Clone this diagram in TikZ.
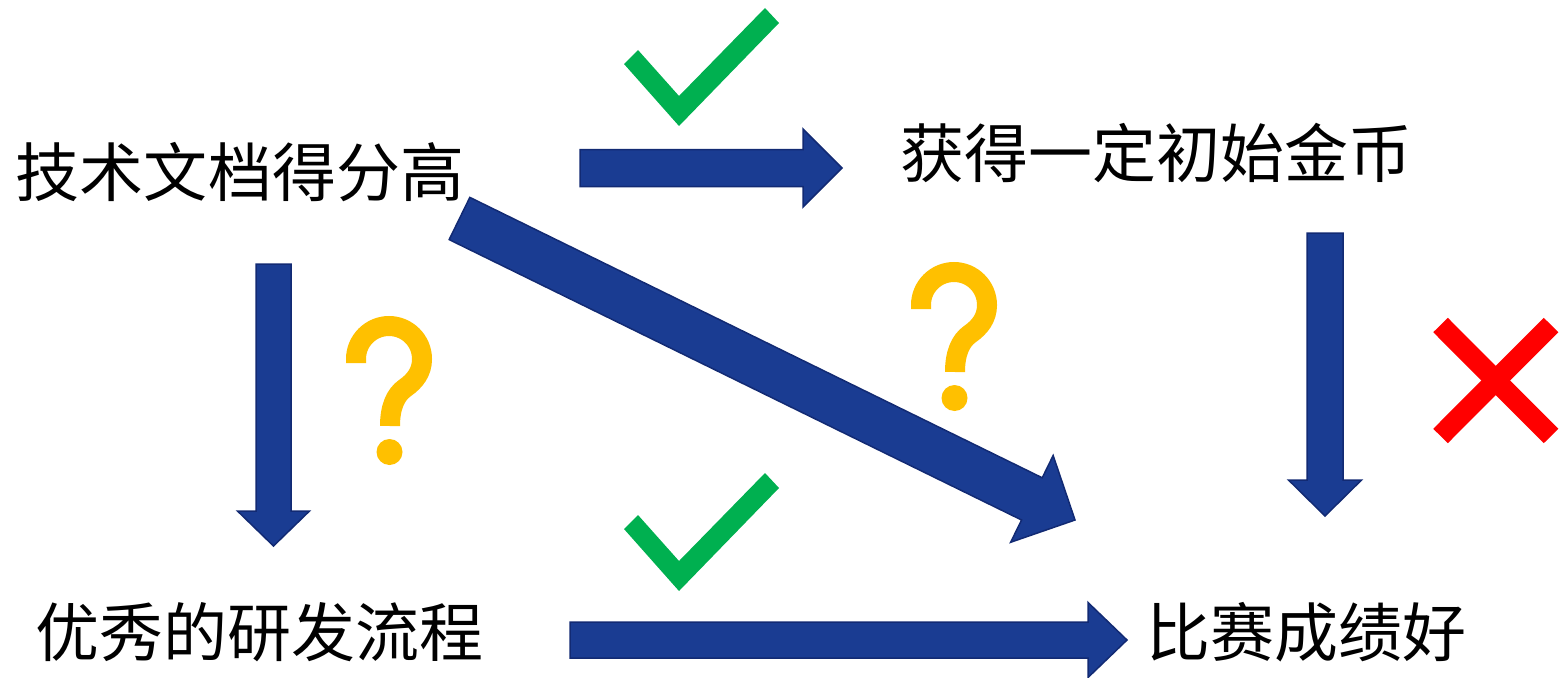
\documentclass[tikz,border=0pt]{standalone}
\usepackage{fontspec}
\newfontfamily\cjk{Noto Sans CJK SC}
\usetikzlibrary{calc}
\definecolor{arrfill}{RGB}{26,60,146}
\definecolor{arrdraw}{RGB}{18,42,115}
\definecolor{okgreen}{RGB}{0,176,80}
\definecolor{qyellow}{RGB}{255,192,0}
\definecolor{xred}{RGB}{255,0,0}
\tikzset{
  lbl/.style={font=\cjk\fontsize{64pt}{70pt}\selectfont, inner sep=0pt, anchor=base, text=black},
  blockarr/.style={fill=arrfill, draw=arrdraw, line width=1.5pt, line join=miter},
  qline/.style={draw=qyellow, line width=20pt, line cap=butt},
  xline/.style={draw=xred, line width=20.5pt, line cap=butt},
  okmark/.style={fill=okgreen},
  qmark/.pic={
    \path[qline] (10,47) -- (10,43) .. controls (10,24.8) and (24.8,10) .. (43,10)
      .. controls (61.2,10) and (76,24.8) .. (76,43)
      .. controls (76,56) and (69,65) .. (59,72)
      .. controls (49,79) and (44,92) .. (44,110);
    \fill[qyellow] (43.5,136) circle[radius=13pt];
  },
  checkpic/.pic={
    \fill[okmark] (624,64) -- (638,50) -- (679,96) -- (765,8) -- (779,23) -- (679,126) -- cycle;
  }
}
\newcommand\blockarrow[5]{%
  \coordinate (#1hb) at ($(#2)!#5!(#1)$);
  \path[blockarr] ($(#1)!#3!90:(#2)$) -- ($(#1hb)!#3!90:(#2)$) -- ($(#1hb)!#4!90:(#2)$)
    -- (#2) -- ($(#1hb)!#4!-90:(#2)$) -- ($(#1hb)!#3!-90:(#2)$) -- ($(#1)!#3!-90:(#2)$) -- cycle;
}
\begin{document}
\begin{tikzpicture}[x=1pt,y=-1pt]
\useasboundingbox (0,0) rectangle (1560,677);
% text nodes
\node[lbl] (t1) at (240,196) {技术文档得分高};
\node[lbl] (t2) at (1156.5,177) {获得一定初始金币};
\node[lbl] (t3) at (259.5,656) {优秀的研发流程};
\node[lbl] (t4) at (1306,656) {比赛成绩好};
% arrow end coordinates
\coordinate (aS) at (580,168);   \coordinate (aT) at (842,168);
\coordinate (bS) at (570,640);   \coordinate (bT) at (1127,640);
\coordinate (cS) at (273.5,264); \coordinate (cT) at (273.5,546);
\coordinate (dS) at (1325,233);  \coordinate (dT) at (1325,516);
\coordinate (eS) at (459.5,218.5); \coordinate (eT) at (1075,520);
\blockarrow{aS}{aT}{18.5pt}{39pt}{39pt}
\blockarrow{bS}{bT}{18pt}{37.5pt}{39pt}
\blockarrow{cS}{cT}{17.5pt}{36pt}{35pt}
\blockarrow{dS}{dT}{18pt}{36.5pt}{36pt}
\blockarrow{eS}{eT}{23.5pt}{48.3pt}{48pt}
% check marks
\pic (ck1) at (0,0) {checkpic};
\pic (ck2) at (0,465) {checkpic};
% question marks
\pic (q1) at (346,316) {qmark};
\pic (q2) at (911,262) {qmark};
% red cross
\coordinate (x1) at (1440.5,325); \coordinate (x2) at (1551,436);
\coordinate (x3) at (1551,325);   \coordinate (x4) at (1440.5,436);
\path[xline] (x1) -- (x2);
\path[xline] (x3) -- (x4);
\end{tikzpicture}
\end{document}
